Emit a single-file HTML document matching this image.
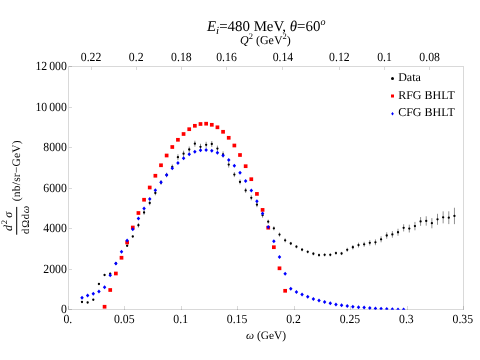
<!DOCTYPE html><html><head><meta charset="utf-8"><title>plot</title><style>html,body{margin:0;padding:0;background:#fff;}svg{display:block;will-change:transform;font-family:"Liberation Serif",serif;}</style></head><body>
<svg width="480" height="360" viewBox="0 0 480 360" text-rendering="geometricPrecision">
<rect width="480" height="360" fill="#fff"/>
<defs><clipPath id="c"><rect x="68.5" y="66.5" width="395" height="243.3"/></clipPath></defs>
<g stroke="#000" stroke-width="1" stroke-opacity="0.15" fill="none" shape-rendering="crispEdges">
<rect x="68.5" y="66.5" width="395" height="243"/>
<path d="M68.50 309.5 v-3.5"/>
<path d="M124.93 309.5 v-3.5"/>
<path d="M181.36 309.5 v-3.5"/>
<path d="M237.79 309.5 v-3.5"/>
<path d="M294.21 309.5 v-3.5"/>
<path d="M350.64 309.5 v-3.5"/>
<path d="M407.07 309.5 v-3.5"/>
<path d="M463.50 309.5 v-3.5"/>
<path d="M91.07 66.5 v3.5"/>
<path d="M136.21 66.5 v3.5"/>
<path d="M181.36 66.5 v3.5"/>
<path d="M226.50 66.5 v3.5"/>
<path d="M282.93 66.5 v3.5"/>
<path d="M339.36 66.5 v3.5"/>
<path d="M384.50 66.5 v3.5"/>
<path d="M429.64 66.5 v3.5"/>
<path d="M68.5 309.50 h3.5"/>
<path d="M68.5 269.00 h3.5"/>
<path d="M68.5 228.50 h3.5"/>
<path d="M68.5 188.00 h3.5"/>
<path d="M68.5 147.50 h3.5"/>
<path d="M68.5 107.00 h3.5"/>
<path d="M68.5 66.50 h3.5"/>
</g>
<g clip-path="url(#c)">
<g stroke="#333" stroke-width="0.55">
<path d="M82.00 301.20 V302.80"/>
<path d="M87.64 301.70 V303.30"/>
<path d="M93.29 298.95 V300.55"/>
<path d="M98.93 283.20 V284.80"/>
<path d="M104.57 274.20 V275.80"/>
<path d="M110.22 272.95 V274.55"/>
<path d="M115.86 262.70 V264.30"/>
<path d="M121.50 256.70 V258.30"/>
<path d="M127.14 244.95 V246.55"/>
<path d="M132.79 235.70 V237.30"/>
<path d="M138.43 222.95 V227.55"/>
<path d="M144.07 210.20 V214.80"/>
<path d="M149.72 200.70 V205.30"/>
<path d="M155.36 190.70 V195.30"/>
<path d="M161.00 180.20 V184.80"/>
<path d="M166.64 172.70 V177.30"/>
<path d="M172.29 164.50 V169.10"/>
<path d="M177.93 154.20 V160.20"/>
<path d="M183.57 150.70 V156.70"/>
<path d="M189.22 146.50 V152.50"/>
<path d="M194.86 140.70 V146.70"/>
<path d="M200.50 143.80 V149.80"/>
<path d="M206.15 141.80 V147.80"/>
<path d="M211.79 141.00 V147.00"/>
<path d="M217.43 145.60 V151.60"/>
<path d="M223.07 151.40 V157.40"/>
<path d="M228.72 161.60 V167.60"/>
<path d="M234.36 172.10 V177.10"/>
<path d="M240.00 179.40 V184.40"/>
<path d="M245.65 187.90 V192.90"/>
<path d="M251.29 195.30 V200.30"/>
<path d="M256.93 202.20 V207.20"/>
<path d="M262.58 212.70 V217.70"/>
<path d="M268.22 219.70 V223.70"/>
<path d="M273.86 226.30 V230.30"/>
<path d="M279.50 232.60 V236.60"/>
<path d="M285.15 238.30 V242.30"/>
<path d="M290.79 241.90 V245.10"/>
<path d="M296.43 245.10 V248.30"/>
<path d="M302.08 248.10 V251.30"/>
<path d="M307.72 250.20 V253.40"/>
<path d="M313.36 252.15 V255.35"/>
<path d="M319.01 253.50 V256.70"/>
<path d="M324.65 253.20 V256.40"/>
<path d="M330.29 253.20 V256.40"/>
<path d="M335.94 251.50 V254.70"/>
<path d="M341.58 251.90 V255.10"/>
<path d="M347.22 247.80 V251.80"/>
<path d="M352.86 245.05 V249.45"/>
<path d="M358.51 242.70 V247.50"/>
<path d="M364.15 241.80 V246.80"/>
<path d="M369.79 240.10 V245.50"/>
<path d="M375.44 239.40 V245.20"/>
<path d="M381.08 236.30 V242.30"/>
<path d="M386.72 232.30 V238.70"/>
<path d="M392.37 231.10 V237.70"/>
<path d="M398.01 228.75 V235.75"/>
<path d="M403.65 224.25 V231.45"/>
<path d="M409.29 224.70 V232.50"/>
<path d="M414.94 221.90 V230.30"/>
<path d="M420.58 217.05 V225.85"/>
<path d="M426.22 216.25 V225.65"/>
<path d="M431.87 218.10 V228.30"/>
<path d="M437.51 213.80 V224.80"/>
<path d="M443.15 211.35 V223.35"/>
<path d="M448.79 211.30 V224.10"/>
<path d="M454.44 207.75 V224.15"/>
</g>
<g fill="#000">
<circle cx="82.00" cy="302.00" r="1.15"/>
<circle cx="87.64" cy="302.50" r="1.15"/>
<circle cx="93.29" cy="299.75" r="1.15"/>
<circle cx="98.93" cy="284.00" r="1.15"/>
<circle cx="104.57" cy="275.00" r="1.15"/>
<circle cx="110.22" cy="273.75" r="1.15"/>
<circle cx="115.86" cy="263.50" r="1.15"/>
<circle cx="121.50" cy="257.50" r="1.15"/>
<circle cx="127.14" cy="245.75" r="1.15"/>
<circle cx="132.79" cy="236.50" r="1.15"/>
<circle cx="138.43" cy="225.25" r="1.15"/>
<circle cx="144.07" cy="212.50" r="1.15"/>
<circle cx="149.72" cy="203.00" r="1.15"/>
<circle cx="155.36" cy="193.00" r="1.15"/>
<circle cx="161.00" cy="182.50" r="1.15"/>
<circle cx="166.64" cy="175.00" r="1.15"/>
<circle cx="172.29" cy="166.80" r="1.15"/>
<circle cx="177.93" cy="157.20" r="1.15"/>
<circle cx="183.57" cy="153.70" r="1.15"/>
<circle cx="189.22" cy="149.50" r="1.15"/>
<circle cx="194.86" cy="143.70" r="1.15"/>
<circle cx="200.50" cy="146.80" r="1.15"/>
<circle cx="206.15" cy="144.80" r="1.15"/>
<circle cx="211.79" cy="144.00" r="1.15"/>
<circle cx="217.43" cy="148.60" r="1.15"/>
<circle cx="223.07" cy="154.40" r="1.15"/>
<circle cx="228.72" cy="164.60" r="1.15"/>
<circle cx="234.36" cy="174.60" r="1.15"/>
<circle cx="240.00" cy="181.90" r="1.15"/>
<circle cx="245.65" cy="190.40" r="1.15"/>
<circle cx="251.29" cy="197.80" r="1.15"/>
<circle cx="256.93" cy="204.70" r="1.15"/>
<circle cx="262.58" cy="215.20" r="1.15"/>
<circle cx="268.22" cy="221.70" r="1.15"/>
<circle cx="273.86" cy="228.30" r="1.15"/>
<circle cx="279.50" cy="234.60" r="1.15"/>
<circle cx="285.15" cy="240.30" r="1.15"/>
<circle cx="290.79" cy="243.50" r="1.15"/>
<circle cx="296.43" cy="246.70" r="1.15"/>
<circle cx="302.08" cy="249.70" r="1.15"/>
<circle cx="307.72" cy="251.80" r="1.15"/>
<circle cx="313.36" cy="253.75" r="1.15"/>
<circle cx="319.01" cy="255.10" r="1.15"/>
<circle cx="324.65" cy="254.80" r="1.15"/>
<circle cx="330.29" cy="254.80" r="1.15"/>
<circle cx="335.94" cy="253.10" r="1.15"/>
<circle cx="341.58" cy="253.50" r="1.15"/>
<circle cx="347.22" cy="249.80" r="1.15"/>
<circle cx="352.86" cy="247.25" r="1.15"/>
<circle cx="358.51" cy="245.10" r="1.15"/>
<circle cx="364.15" cy="244.30" r="1.15"/>
<circle cx="369.79" cy="242.80" r="1.15"/>
<circle cx="375.44" cy="242.30" r="1.15"/>
<circle cx="381.08" cy="239.30" r="1.15"/>
<circle cx="386.72" cy="235.50" r="1.15"/>
<circle cx="392.37" cy="234.40" r="1.15"/>
<circle cx="398.01" cy="232.25" r="1.15"/>
<circle cx="403.65" cy="227.85" r="1.15"/>
<circle cx="409.29" cy="228.60" r="1.15"/>
<circle cx="414.94" cy="226.10" r="1.15"/>
<circle cx="420.58" cy="221.45" r="1.15"/>
<circle cx="426.22" cy="220.95" r="1.15"/>
<circle cx="431.87" cy="223.20" r="1.15"/>
<circle cx="437.51" cy="219.30" r="1.15"/>
<circle cx="443.15" cy="217.35" r="1.15"/>
<circle cx="448.79" cy="217.70" r="1.15"/>
<circle cx="454.44" cy="215.95" r="1.15"/>
</g>
<g fill="#f00">
<rect x="102.72" y="304.90" width="3.7" height="3.7"/>
<rect x="108.37" y="288.15" width="3.7" height="3.7"/>
<rect x="114.01" y="271.65" width="3.7" height="3.7"/>
<rect x="119.65" y="255.90" width="3.7" height="3.7"/>
<rect x="125.29" y="240.65" width="3.7" height="3.7"/>
<rect x="130.94" y="225.65" width="3.7" height="3.7"/>
<rect x="136.58" y="211.15" width="3.7" height="3.7"/>
<rect x="142.22" y="197.90" width="3.7" height="3.7"/>
<rect x="147.87" y="185.65" width="3.7" height="3.7"/>
<rect x="153.51" y="173.90" width="3.7" height="3.7"/>
<rect x="159.15" y="163.40" width="3.7" height="3.7"/>
<rect x="164.79" y="153.65" width="3.7" height="3.7"/>
<rect x="170.44" y="145.15" width="3.7" height="3.7"/>
<rect x="176.08" y="137.95" width="3.7" height="3.7"/>
<rect x="181.72" y="132.15" width="3.7" height="3.7"/>
<rect x="187.37" y="127.35" width="3.7" height="3.7"/>
<rect x="193.01" y="123.95" width="3.7" height="3.7"/>
<rect x="198.65" y="122.15" width="3.7" height="3.7"/>
<rect x="204.30" y="121.85" width="3.7" height="3.7"/>
<rect x="209.94" y="122.95" width="3.7" height="3.7"/>
<rect x="215.58" y="125.45" width="3.7" height="3.7"/>
<rect x="221.22" y="129.95" width="3.7" height="3.7"/>
<rect x="226.87" y="135.95" width="3.7" height="3.7"/>
<rect x="232.51" y="143.65" width="3.7" height="3.7"/>
<rect x="238.15" y="153.15" width="3.7" height="3.7"/>
<rect x="243.80" y="164.35" width="3.7" height="3.7"/>
<rect x="249.44" y="177.35" width="3.7" height="3.7"/>
<rect x="255.08" y="192.05" width="3.7" height="3.7"/>
<rect x="260.73" y="208.05" width="3.7" height="3.7"/>
<rect x="266.37" y="225.85" width="3.7" height="3.7"/>
<rect x="272.01" y="245.35" width="3.7" height="3.7"/>
<rect x="277.65" y="266.45" width="3.7" height="3.7"/>
<rect x="283.30" y="288.95" width="3.7" height="3.7"/>
</g>
<g fill="#00f">
<path d="M82.00 295.75 L83.75 297.75 L82.00 299.75 L80.25 297.75Z"/>
<path d="M87.64 293.50 L89.39 295.50 L87.64 297.50 L85.89 295.50Z"/>
<path d="M93.29 291.75 L95.04 293.75 L93.29 295.75 L91.54 293.75Z"/>
<path d="M98.93 289.50 L100.68 291.50 L98.93 293.50 L97.18 291.50Z"/>
<path d="M104.57 285.25 L106.32 287.25 L104.57 289.25 L102.82 287.25Z"/>
<path d="M110.22 273.25 L111.97 275.25 L110.22 277.25 L108.47 275.25Z"/>
<path d="M115.86 261.50 L117.61 263.50 L115.86 265.50 L114.11 263.50Z"/>
<path d="M121.50 249.75 L123.25 251.75 L121.50 253.75 L119.75 251.75Z"/>
<path d="M127.14 238.50 L128.89 240.50 L127.14 242.50 L125.39 240.50Z"/>
<path d="M132.79 227.25 L134.54 229.25 L132.79 231.25 L131.04 229.25Z"/>
<path d="M138.43 216.60 L140.18 218.60 L138.43 220.60 L136.68 218.60Z"/>
<path d="M144.07 206.50 L145.82 208.50 L144.07 210.50 L142.32 208.50Z"/>
<path d="M149.72 197.00 L151.47 199.00 L149.72 201.00 L147.97 199.00Z"/>
<path d="M155.36 188.25 L157.11 190.25 L155.36 192.25 L153.61 190.25Z"/>
<path d="M161.00 180.25 L162.75 182.25 L161.00 184.25 L159.25 182.25Z"/>
<path d="M166.64 173.00 L168.39 175.00 L166.64 177.00 L164.89 175.00Z"/>
<path d="M172.29 166.30 L174.04 168.30 L172.29 170.30 L170.54 168.30Z"/>
<path d="M177.93 161.00 L179.68 163.00 L177.93 165.00 L176.18 163.00Z"/>
<path d="M183.57 156.20 L185.32 158.20 L183.57 160.20 L181.82 158.20Z"/>
<path d="M189.22 152.30 L190.97 154.30 L189.22 156.30 L187.47 154.30Z"/>
<path d="M194.86 149.70 L196.61 151.70 L194.86 153.70 L193.11 151.70Z"/>
<path d="M200.50 148.30 L202.25 150.30 L200.50 152.30 L198.75 150.30Z"/>
<path d="M206.15 148.00 L207.90 150.00 L206.15 152.00 L204.40 150.00Z"/>
<path d="M211.79 148.70 L213.54 150.70 L211.79 152.70 L210.04 150.70Z"/>
<path d="M217.43 150.70 L219.18 152.70 L217.43 154.70 L215.68 152.70Z"/>
<path d="M223.07 153.60 L224.82 155.60 L223.07 157.60 L221.32 155.60Z"/>
<path d="M228.72 158.10 L230.47 160.10 L228.72 162.10 L226.97 160.10Z"/>
<path d="M234.36 163.80 L236.11 165.80 L234.36 167.80 L232.61 165.80Z"/>
<path d="M240.00 170.80 L241.75 172.80 L240.00 174.80 L238.25 172.80Z"/>
<path d="M245.65 179.00 L247.40 181.00 L245.65 183.00 L243.90 181.00Z"/>
<path d="M251.29 188.40 L253.04 190.40 L251.29 192.40 L249.54 190.40Z"/>
<path d="M256.93 199.30 L258.68 201.30 L256.93 203.30 L255.18 201.30Z"/>
<path d="M262.58 211.50 L264.33 213.50 L262.58 215.50 L260.83 213.50Z"/>
<path d="M268.22 224.90 L269.97 226.90 L268.22 228.90 L266.47 226.90Z"/>
<path d="M273.86 239.25 L275.61 241.25 L273.86 243.25 L272.11 241.25Z"/>
<path d="M279.50 255.00 L281.25 257.00 L279.50 259.00 L277.75 257.00Z"/>
<path d="M285.15 271.75 L286.90 273.75 L285.15 275.75 L283.40 273.75Z"/>
<path d="M290.79 286.75 L292.54 288.75 L290.79 290.75 L289.04 288.75Z"/>
<path d="M296.43 289.90 L298.18 291.90 L296.43 293.90 L294.68 291.90Z"/>
<path d="M302.08 292.60 L303.83 294.60 L302.08 296.60 L300.33 294.60Z"/>
<path d="M307.72 294.70 L309.47 296.70 L307.72 298.70 L305.97 296.70Z"/>
<path d="M313.36 297.00 L315.11 299.00 L313.36 301.00 L311.61 299.00Z"/>
<path d="M319.01 298.60 L320.76 300.60 L319.01 302.60 L317.26 300.60Z"/>
<path d="M324.65 300.10 L326.40 302.10 L324.65 304.10 L322.90 302.10Z"/>
<path d="M330.29 301.30 L332.04 303.30 L330.29 305.30 L328.54 303.30Z"/>
<path d="M335.94 302.40 L337.69 304.40 L335.94 306.40 L334.19 304.40Z"/>
<path d="M341.58 303.20 L343.33 305.20 L341.58 307.20 L339.83 305.20Z"/>
<path d="M347.22 304.00 L348.97 306.00 L347.22 308.00 L345.47 306.00Z"/>
<path d="M352.86 304.70 L354.61 306.70 L352.86 308.70 L351.11 306.70Z"/>
<path d="M358.51 305.20 L360.26 307.20 L358.51 309.20 L356.76 307.20Z"/>
<path d="M364.15 305.60 L365.90 307.60 L364.15 309.60 L362.40 307.60Z"/>
<path d="M369.79 306.10 L371.54 308.10 L369.79 310.10 L368.04 308.10Z"/>
<path d="M375.44 306.50 L377.19 308.50 L375.44 310.50 L373.69 308.50Z"/>
<path d="M381.08 306.75 L382.83 308.75 L381.08 310.75 L379.33 308.75Z"/>
<path d="M386.72 307.00 L388.47 309.00 L386.72 311.00 L384.97 309.00Z"/>
<path d="M392.37 307.20 L394.12 309.20 L392.37 311.20 L390.62 309.20Z"/>
<path d="M398.01 307.40 L399.76 309.40 L398.01 311.40 L396.26 309.40Z"/>
<path d="M403.65 307.60 L405.40 309.60 L403.65 311.60 L401.90 309.60Z"/>
</g>
</g>
<g font-size="12.4" fill="#000">
<text transform="translate(67.80,322.50) scale(0.95,1)" text-anchor="middle">0.</text>
<text transform="translate(124.23,322.50) scale(0.95,1)" text-anchor="middle">0.05</text>
<text transform="translate(180.66,322.50) scale(0.95,1)" text-anchor="middle">0.1</text>
<text transform="translate(237.09,322.50) scale(0.95,1)" text-anchor="middle">0.15</text>
<text transform="translate(293.51,322.50) scale(0.95,1)" text-anchor="middle">0.2</text>
<text transform="translate(349.94,322.50) scale(0.95,1)" text-anchor="middle">0.25</text>
<text transform="translate(406.37,322.50) scale(0.95,1)" text-anchor="middle">0.3</text>
<text transform="translate(462.80,322.50) scale(0.95,1)" text-anchor="middle">0.35</text>
<text transform="translate(91.07,61.30) scale(0.95,1)" text-anchor="middle">0.22</text>
<text transform="translate(136.21,61.30) scale(0.95,1)" text-anchor="middle">0.2</text>
<text transform="translate(181.36,61.30) scale(0.95,1)" text-anchor="middle">0.18</text>
<text transform="translate(226.50,61.30) scale(0.95,1)" text-anchor="middle">0.16</text>
<text transform="translate(282.93,61.30) scale(0.95,1)" text-anchor="middle">0.14</text>
<text transform="translate(339.36,61.30) scale(0.95,1)" text-anchor="middle">0.12</text>
<text transform="translate(384.50,61.30) scale(0.95,1)" text-anchor="middle">0.1</text>
<text transform="translate(429.64,61.30) scale(0.95,1)" text-anchor="middle">0.08</text>
<text transform="translate(66.80,313.00) scale(0.95,1)" text-anchor="end">0</text>
<text transform="translate(66.80,272.50) scale(0.95,1)" text-anchor="end">2000</text>
<text transform="translate(66.80,232.00) scale(0.95,1)" text-anchor="end">4000</text>
<text transform="translate(66.80,191.50) scale(0.95,1)" text-anchor="end">6000</text>
<text transform="translate(66.80,151.00) scale(0.95,1)" text-anchor="end">8000</text>
<text transform="translate(66.80,110.50) scale(0.95,1)" text-anchor="end">10<tspan dx="2">000</tspan></text>
<text transform="translate(66.80,70.00) scale(0.95,1)" text-anchor="end">12<tspan dx="2">000</tspan></text>
</g>
<text x="266.2" y="31.1" font-size="14.9" text-anchor="middle" fill="#000"><tspan font-style="italic">E</tspan><tspan font-style="italic" font-size="11" dy="2.5">i</tspan><tspan dy="-2.5">=480 MeV, </tspan><tspan font-style="italic">θ</tspan>=60<tspan font-style="italic" font-size="10" dy="-6.6">o</tspan></text>
<text x="265.4" y="44.4" font-size="12" text-anchor="middle" fill="#000"><tspan font-style="italic">Q</tspan><tspan font-size="8.5" dy="-5.2">2</tspan><tspan dy="5.2"> (GeV</tspan><tspan font-size="8.5" dy="-5.2">2</tspan><tspan dy="5.2">)</tspan></text>
<text x="266.0" y="339.4" font-size="11.4" text-anchor="middle" fill="#000"><tspan font-style="italic">ω</tspan> (GeV)</text>
<g transform="translate(0,0) rotate(-90)" fill="#000">
<text x="-201.2" y="19.8" font-size="11.4" letter-spacing="0.25">(nb/sr−GeV)</text>
<text x="-230.9" y="11.7" font-size="12"><tspan font-style="italic">d</tspan><tspan font-size="8.5" dy="-4.6" dx="0.6">2</tspan><tspan dy="4.6" dx="2.4" font-style="italic">σ</tspan></text>
<rect x="-234.7" y="16.2" width="27.8" height="1"/>
<text x="-233.9" y="28.7" font-size="10.5" letter-spacing="0.8">dΩd<tspan font-style="italic">ω</tspan></text>
</g>
<circle cx="392.5" cy="78.5" r="1.5" fill="#000"/>
<rect x="391" y="94.5" width="3" height="3" fill="#f00"/>
<path d="M392.5 112.1 L393.8 113.75 L392.5 115.4 L391.2 113.75Z" fill="#00f"/>
<g font-size="12" fill="#000"><text x="398.2" y="80.5">Data</text><text x="398.2" y="98.65">RFG BHLT</text><text x="398.2" y="116.05">CFG BHLT</text></g>
</svg></body></html>
